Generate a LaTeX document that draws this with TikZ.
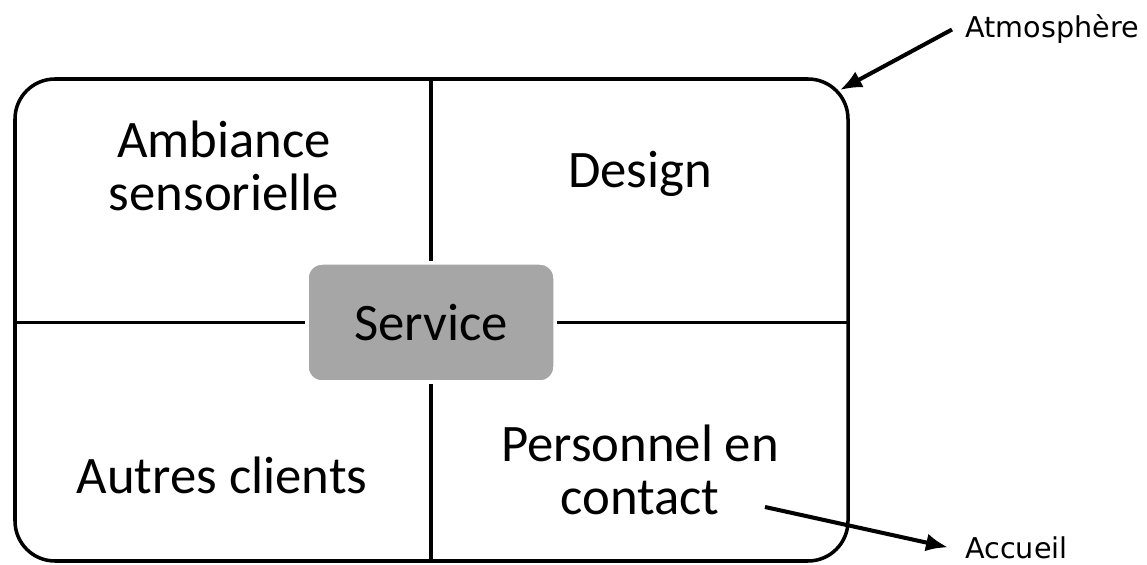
\documentclass[tikz,border=0pt]{standalone}
\usepackage{fontspec}
\setmainfont{Carlito}
\newfontfamily\notefont{DejaVu Sans}
\usepackage{tikz}
\usetikzlibrary{positioning,arrows.meta}

\begin{document}
\begin{tikzpicture}[auto,node distance=1.5cm]
	\tikzstyle{quad}=[align=center, font=\fontsize{30}{30}\selectfont, inner sep=0pt]
	\tikzstyle{note}=[font=\notefont\fontsize{16.3}{18}\selectfont, inner sep=0pt, anchor=base west]
	\tikzstyle{wall}=[line width=2pt]
	\tikzstyle{pointer}=[line width=2.3pt, -{Latex[length=0.44cm,width=0.36cm]}]
	\useasboundingbox (0,0) rectangle (22.94,11.28);
		% cadre principal et bloc central
		\node[draw, wall, rounded corners=0.8cm, minimum width=16.66cm, minimum height=9.64cm] (frame) at (8.63,4.88) {};
		\node[fill={rgb,255:red,166;green,166;blue,166}, draw=white, line width=0.07cm, rounded corners=0.3cm, minimum width=4.96cm, minimum height=2.38cm, font=\fontsize{30}{30}\selectfont] (service) at (8.62,4.83) {Service};
		\draw[wall] (frame.north -| service) -- (service.north);
		\draw[wall] (service.south) -- (frame.south -| service);
		\draw[wall] (frame.west |- service) -- (service.west);
		\draw[wall] (service.east) -- (frame.east |- service);
		% les quatre cases
		\node[quad] (ambiance) at (4.48,7.96) {Ambiance\\sensorielle};
		\node[quad] (design) at (12.8,7.80) {Design};
		\node[quad] (autres) at (4.44,1.78) {Autres clients};
		\node[quad] (personnel) at (12.8,1.88) {Personnel en\\contact};
		% etiquettes externes
		\node[note] (atmo) at (19.30,10.52) {Atmosphère};
		\node[note] (accueil) at (19.30,0.12) {Accueil};
		\coordinate (coin) at (16.80,9.48);
		\coordinate (depart) at (15.30,1.14);
			\draw[pointer] ([xshift=-0.26cm]atmo.west) -- (coin);
			\draw[pointer] (depart) -- ([xshift=-0.34cm]accueil.west);
\end{tikzpicture}
\end{document}
